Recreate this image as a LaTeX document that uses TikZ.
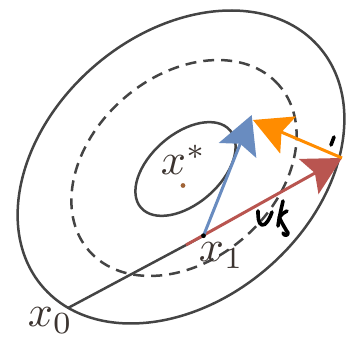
\documentclass[tikz,border=0pt]{standalone}
\usetikzlibrary{arrows.meta}
\definecolor{ellgray}{RGB}{68,68,68}
\definecolor{txtc}{RGB}{60,52,48}
\definecolor{redarr}{RGB}{185,85,80}
\definecolor{orarr}{RGB}{255,140,0}
\definecolor{bluarr}{RGB}{105,140,192}
\definecolor{stardot}{RGB}{160,100,55}
\tikzset{
  contour/.style={draw=ellgray, line width=2.5pt},
  dashcontour/.style={contour, dash pattern=on 11pt off 7pt},
  bigarrow/.style={line width=3pt, -{Stealth[length=38pt,width=40pt,inset=7pt]}},
  lbl/.style={scale=4.4, inner sep=0pt, anchor=base west, text=txtc},
  scribble/.style={draw=black, line width=3.6pt, line cap=round, line join=round}
}
\begin{document}
\begin{tikzpicture}[x=1pt,y=1pt]
\useasboundingbox (0,0) rectangle (360,342);
% contours
\draw[contour, rotate around={41:(181,175)}] (181,175) ellipse [x radius=183pt, y radius=133pt];
\draw[dashcontour, rotate around={41:(184,174)}] (184,174) ellipse [x radius=126pt, y radius=92pt];
\draw[contour, rotate around={41:(185.5,173)}] (185.5,173) ellipse [x radius=59pt, y radius=35pt];
% points
\coordinate (x0) at (68,34);
\coordinate (x1) at (203.5,106.3);
\coordinate (rs) at (186,97);
\coordinate (rt) at (342,184);
\coordinate (ot) at (253,222);
\coordinate (bt) at (251.7,227);
\coordinate (xs) at (183,156.5);
% path
\draw[draw=ellgray, line width=2.5pt] (x0) -- (x1);
\draw[bigarrow, redarr] (rs) -- (rt);
\draw[bigarrow, orarr] (rt) -- (ot);
\draw[bigarrow, bluarr] (x1) -- (bt);
\fill[black] (x1) circle (2.4pt);
\fill[stardot] (xs) circle (2.4pt);
% labels
\node[lbl] (lxs) at (160,167) {$x^*$};
\node[lbl] (lx1) at (198,80) {$x_1$};
\node[lbl] (lx0) at (27,15) {$x_0$};
% handwritten marks
\draw[scribble] (258,131) .. controls (258,126) and (258,118) .. (262,117)
  .. controls (266,116) and (270,124) .. (272,130);
\draw[scribble] (283,141) .. controls (281,132) and (279,124) .. (278,116);
\draw[scribble] (279,124) .. controls (282,128) and (284,130) .. (287,131);
\draw[scribble] (280,123) .. controls (283,117) and (286,112) .. (288,109)
  .. controls (288,106) and (284,106) .. (283,109);
\draw[scribble, line width=3.6pt] (334,205) -- (331,197);
\end{tikzpicture}
\end{document}
